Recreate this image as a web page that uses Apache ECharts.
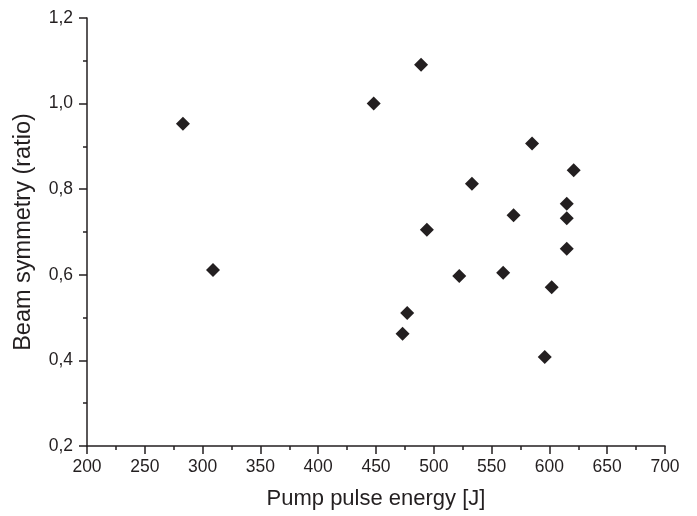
<!DOCTYPE html>
<html>
<head>
<meta charset="utf-8">
<script src="https://cdn.jsdelivr.net/npm/echarts@6/dist/echarts.min.js"></script>
<style>
  html, body { margin: 0; padding: 0; background: #ffffff; }
  #chart { width: 697px; height: 516px; }
</style>
</head>
<body>
<div id="chart"></div>
<script>
// Pump pulse energy [J] for each shot
const pumpEnergy = [283, 309, 448, 489, 585, 621, 533, 615, 569, 615, 494, 615, 522, 560, 602, 477, 473, 596];
// Beam symmetry ratio for each shot
const beamSymmetry = [0.953, 0.611, 1.0, 1.091, 0.907, 0.844, 0.813, 0.766, 0.739, 0.732, 0.705, 0.661, 0.597, 0.605, 0.571, 0.511, 0.462, 0.408];

const xTicks = { min: 200, max: 700, step: 50 };
const yTicks = { min: 0.2, max: 1.2, step: 0.2 };

const ink = '#231f20';
const font = '"Liberation Sans", Arial, Helvetica, sans-serif';

const points = pumpEnergy.map((x, i) => [x, beamSymmetry[i]]);

const axisCommon = {
  axisLine: { show: true, onZero: false, lineStyle: { color: ink, width: 1.5 } },
  axisTick: { show: true, inside: false, length: 8, lineStyle: { color: ink, width: 1.5 } },
  minorTick: { show: true, splitNumber: 2, length: 4, lineStyle: { color: ink, width: 1.5 } },
  splitLine: { show: false },
  minorSplitLine: { show: false },
};

const chart = echarts.init(document.getElementById('chart'), null, { renderer: 'canvas' });
chart.setOption({
  backgroundColor: '#ffffff',
  animation: false,
  grid: { left: 87, right: 32, top: 18, bottom: 70, containLabel: false },
  xAxis: Object.assign({}, axisCommon, {
    type: 'value',
    min: xTicks.min,
    max: xTicks.max,
    interval: xTicks.step,
    name: 'Pump pulse energy [J]',
    nameLocation: 'middle',
    nameGap: 42,
    nameTextStyle: { color: ink, fontFamily: font, fontSize: 22 },
    axisLabel: { color: ink, fontFamily: font, fontSize: 17.5, margin: 12 },
  }),
  yAxis: Object.assign({}, axisCommon, {
    type: 'value',
    min: yTicks.min,
    max: yTicks.max,
    interval: yTicks.step,
    name: 'Beam symmetry (ratio)',
    nameLocation: 'middle',
    nameGap: 51,
    nameTextStyle: { color: ink, fontFamily: font, fontSize: 23.5 },
    axisLabel: {
      color: ink, fontFamily: font, fontSize: 17.5, margin: 14,
      formatter: v => v.toFixed(1).replace('.', ',')
    },
  }),
  series: [{
    type: 'scatter',
    data: points,
    symbol: 'diamond',
    symbolSize: [14, 14],
    itemStyle: { color: ink, opacity: 1 },
    emphasis: { disabled: true },
  }],
});
</script>
</body>
</html>
